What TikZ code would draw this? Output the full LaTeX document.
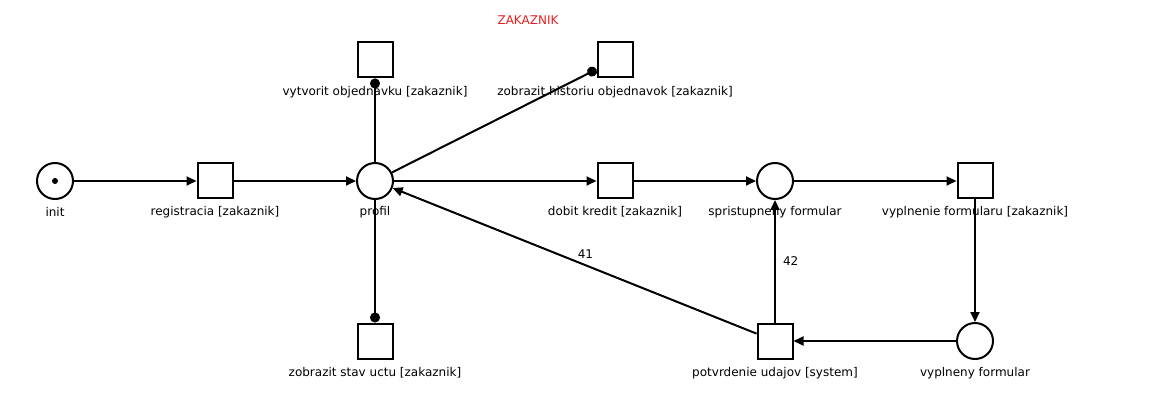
\documentclass[tikz,border=0pt]{standalone}
\usepackage{fontspec}
\setmainfont{DejaVu Sans}
\usetikzlibrary{arrows.meta}
\definecolor{titlered}{RGB}{230,30,30}
\begin{document}
\begin{tikzpicture}[x=1pt,y=-1pt,
  place/.style={circle,draw,line width=2pt,minimum size=36pt,inner sep=0pt},
  trans/.style={rectangle,draw,line width=2pt,minimum size=35pt,inner sep=0pt},
  lab/.style={font=\fontsize{12}{14}\selectfont,inner sep=1pt},
  arc/.style={line width=2pt,-{Triangle[length=10pt,width=9pt]}},
  rarc/.style={line width=2pt,-{Circle[length=10pt]}}]
\useasboundingbox (0,0) rectangle (1173,414);
\node[lab,text=titlered] (title) at (528,20) {ZAKAZNIK};
% places
\node[place] (init) at (55,181) {};
\fill (init.center) circle (3pt);
\node[place] (profil) at (375,181) {};
\node[place] (sprist) at (775,181) {};
\node[place] (vypln) at (975,341) {};
% transitions
\node[trans] (reg) at (215,181) {};
\node[trans] (vytv) at (375,60) {};
\node[trans] (hist) at (615,60) {};
\node[trans] (stav) at (375,341) {};
\node[trans] (dobit) at (615,181) {};
\node[trans] (vyplnenie) at (975,181) {};
\node[trans] (potv) at (775,341) {};
% labels
\node[lab] (linit) at (55,212) {init};
\node[lab] (lreg) at (215,212) {registracia [zakaznik]};
\node[lab] (lprofil) at (375,212) {profil};
\node[lab] (lvytv) at (375,92) {vytvorit objednavku [zakaznik]};
\node[lab] (lhist) at (615,92) {zobrazit historiu objednavok [zakaznik]};
\node[lab] (lstav) at (375,373) {zobrazit stav uctu [zakaznik]};
\node[lab] (ldobit) at (615,212) {dobit kredit [zakaznik]};
\node[lab] (lsprist) at (775,212) {spristupneny formular};
\node[lab] (lvyplnenie) at (975,212) {vyplnenie formularu [zakaznik]};
\node[lab] (lvypln) at (975,373) {vyplneny formular};
\node[lab] (lpotv) at (775,373) {potvrdenie udajov [system]};
% arcs
\draw[arc] (init) -- (reg);
\draw[arc] (reg) -- (profil);
\draw[rarc] (profil) -- (vytv);
\draw[rarc] (profil) -- (hist);
\draw[rarc] (profil) -- (stav);
\draw[arc] (profil) -- (dobit);
\draw[arc] (dobit) -- (sprist);
\draw[arc] (sprist) -- (vyplnenie);
\draw[arc] (vyplnenie) -- (vypln);
\draw[arc] (vypln) -- (potv);
\draw[arc] (potv) -- node[lab,right=6pt,pos=0.5] {42} (sprist);
\draw[arc] (potv) -- node[lab,above=5pt,pos=0.47] {41} (profil);
\end{tikzpicture}
\end{document}
